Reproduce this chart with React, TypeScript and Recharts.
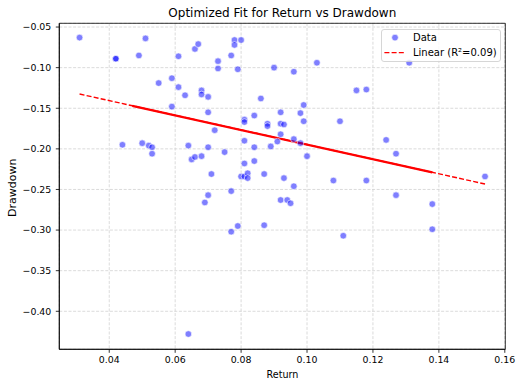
import React from 'react';
import {
  ComposedChart,
  Scatter,
  Line,
  XAxis,
  YAxis,
  CartesianGrid,
  ReferenceArea,
  Legend,
  Customized,
} from 'recharts';

// Scatter data
const returns = [
  0.031, 0.051, 0.042, 0.042, 0.049, 0.061, 0.066, 0.067, 0.055, 0.059,
  0.061, 0.063, 0.068, 0.068, 0.070, 0.059, 0.070, 0.044, 0.050, 0.052,
  0.053, 0.053, 0.064, 0.065, 0.066, 0.068, 0.070, 0.070, 0.069, 0.071,
  0.078, 0.078, 0.080, 0.077, 0.073, 0.073, 0.079, 0.090, 0.096, 0.103,
  0.086, 0.099, 0.092, 0.098, 0.099, 0.110, 0.081, 0.081, 0.084, 0.088,
  0.088, 0.092, 0.093, 0.072, 0.081, 0.092, 0.091, 0.096, 0.098, 0.084,
  0.089, 0.100, 0.075, 0.081, 0.084, 0.080, 0.081, 0.082, 0.082, 0.087,
  0.093, 0.096, 0.108, 0.077, 0.092, 0.094, 0.095, 0.077, 0.079, 0.087,
  0.111, 0.064, 0.127, 0.138, 0.138, 0.131, 0.115, 0.118, 0.124, 0.127,
  0.118, 0.154,
];
const drawdowns = [
  -0.063, -0.064, -0.089, -0.089, -0.085, -0.086, -0.077, -0.071, -0.119, -0.113,
  -0.124, -0.134, -0.128, -0.133, -0.136, -0.148, -0.155, -0.195, -0.193, -0.196,
  -0.198, -0.206, -0.196, -0.213, -0.210, -0.209, -0.198, -0.257, -0.266, -0.231,
  -0.066, -0.072, -0.066, -0.085, -0.092, -0.101, -0.102, -0.100, -0.105, -0.094,
  -0.138, -0.146, -0.155, -0.156, -0.166, -0.166, -0.164, -0.167, -0.159, -0.169,
  -0.172, -0.169, -0.170, -0.177, -0.190, -0.182, -0.191, -0.188, -0.193, -0.198,
  -0.197, -0.209, -0.204, -0.218, -0.215, -0.234, -0.234, -0.230, -0.236, -0.231,
  -0.236, -0.246, -0.239, -0.252, -0.263, -0.263, -0.267, -0.302, -0.295, -0.294,
  -0.307, -0.428, -0.257, -0.268, -0.299, -0.094, -0.128, -0.127, -0.189, -0.206,
  -0.239, -0.234,
];

// Linear fit line
const fitReturns = [0.031, 0.154];
const fitDrawdowns = [-0.1325, -0.2433];
// the middle part of the fit appears solid/thicker in the reference
const fitSolidReturns = [0.047, 0.138];
const fitSolidDrawdowns = [-0.147, -0.229];

const xTicks = [0.04, 0.06, 0.08, 0.1, 0.12, 0.14, 0.16];
const yTicks = [-0.4, -0.35, -0.3, -0.25, -0.2, -0.15, -0.1, -0.05];
const xDomain = [0.02485, 0.16015];
const yDomain = [-0.4468, -0.0454];

const title = 'Optimized Fit for Return vs Drawdown';
const xLabel = 'Return';
const yLabel = 'Drawdown';
const legendLabels = ['Data', 'Linear (R²=0.09)'];

const points = returns.map((r, i) => ({ x: r, y: drawdowns[i] }));
const fitLine = fitReturns.map((r, i) => ({ x: r, y: fitDrawdowns[i] }));
const fitSolid = fitSolidReturns.map((r, i) => ({ x: r, y: fitSolidDrawdowns[i] }));

const FONT = '"DejaVu Sans", sans-serif';

const Dot = (props: any) => {
  const { cx, cy } = props;
  if (cx == null || cy == null) return null;
  return (
    <circle cx={cx} cy={cy} r={3.3} fill="#0000ff" fillOpacity={0.5} stroke="#ffffff" strokeWidth={0.6} />
  );
};

const LegendBox = () => (
  <svg width={120} height={33} style={{ display: 'block', overflow: 'visible' }}>
    <rect x={0.5} y={0.5} width={119} height={32} rx={2.5} ry={2.5} fill="#ffffff" fillOpacity={0.8} stroke="#cccccc" strokeWidth={0.8} />
    <circle cx={14} cy={8.6} r={3.3} fill="#0000ff" fillOpacity={0.5} stroke="#ffffff" strokeWidth={0.6} />
    <text x={32} y={11.9} fontSize={10} fontFamily={FONT} fill="#000">{legendLabels[0]}</text>
    <line x1={3.4} x2={23.4} y1={23.6} y2={23.6} stroke="#ff0000" strokeWidth={1.4} strokeDasharray="5 2.2" />
    <text x={32} y={26.9} fontSize={10} fontFamily={FONT} fill="#000">{legendLabels[1]}</text>
  </svg>
);

const Titles = () => (
  <g fontFamily={FONT}>
    <text x={282.3} y={17} fontSize={12} textAnchor="middle" fill="#000">{title}</text>
    <text x={282.5} y={378} fontSize={9.6} textAnchor="middle" fill="#000">{xLabel}</text>
    <text x={15.8} y={187.8} fontSize={11} textAnchor="middle" fill="#000" transform="rotate(-90 15.8 187.8)">{yLabel}</text>
  </g>
);

const fmtX = (v: number) => v.toFixed(2);
const fmtY = (v: number) => (v < 0 ? '\u2212' : '') + Math.abs(v).toFixed(2);

export default function App() {
  return (
    <div style={{ position: 'absolute', left: 0, top: 0, width: 523, height: 387, background: '#fff' }}>
      <ComposedChart
        width={523}
        height={387}
        margin={{ top: 23.3, right: 17.7, bottom: 0, left: 0 }}
        style={{ fontFamily: FONT }}
      >
        <CartesianGrid stroke="#d2d2d2" strokeDasharray="3 1.6" strokeWidth={0.8} />
        <XAxis
          type="number"
          dataKey="x"
          domain={xDomain}
          ticks={xTicks}
          interval={0}
          allowDataOverflow
          height={37.7}
          tickFormatter={fmtX}
          tick={{ fontSize: 9.4, fill: '#000', fontFamily: FONT }}
          tickSize={3.5}
          tickMargin={3.5}
          stroke="#000"
          strokeWidth={0.8}
        />
        <YAxis
          type="number"
          dataKey="y"
          domain={yDomain}
          ticks={yTicks}
          interval={0}
          allowDataOverflow
          width={59.3}
          tickFormatter={fmtY}
          tick={{ fontSize: 9.4, fill: '#000', fontFamily: FONT }}
          tickSize={3.5}
          tickMargin={4.5}
          stroke="#000"
          strokeWidth={0.8}
        />
        <ReferenceArea
          x1={xDomain[0]}
          x2={xDomain[1]}
          y1={yDomain[0]}
          y2={yDomain[1]}
          fill="none"
          stroke="#000"
          strokeWidth={0.8}
          ifOverflow="visible"
        />
        <Scatter data={points} dataKey="y" shape={Dot} isAnimationActive={false} />
        <Line
          data={fitLine}
          dataKey="y"
          type="linear"
          stroke="#ff0000"
          strokeWidth={1.4}
          strokeDasharray="5 2.2"
          dot={false}
          activeDot={false}
          isAnimationActive={false}
        />
        <Line
          data={fitSolid}
          dataKey="y"
          type="linear"
          stroke="#ff0000"
          strokeWidth={2.2}
          dot={false}
          activeDot={false}
          isAnimationActive={false}
        />
        <Legend
          layout="horizontal"
          verticalAlign="middle"
          align="center"
          content={() => <LegendBox />}
          wrapperStyle={{ position: 'absolute', left: 381, top: 28.7, width: 120, height: 33 }}
        />
        <Customized component={Titles} />
      </ComposedChart>
    </div>
  );
}
